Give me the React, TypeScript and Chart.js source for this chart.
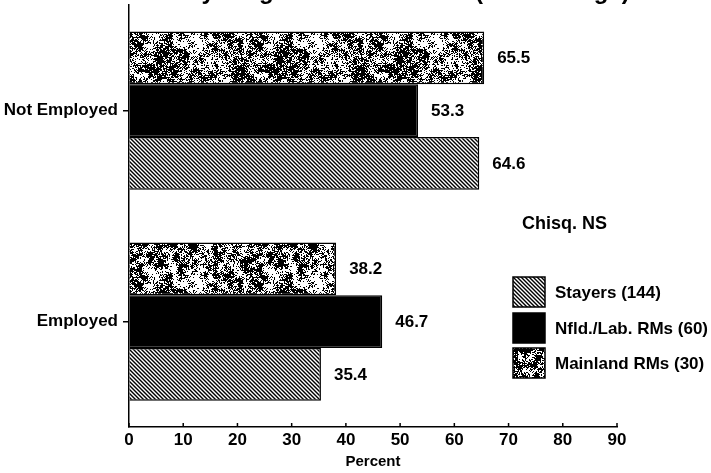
import { useEffect, useRef } from "react";
import { Chart, registerables } from "chart.js";

Chart.register(...registerables);

// ---- data ----
const categories = ["Not Employed", "Employed"];
const seriesLabels = ["Mainland RMs (30)", "Nfld./Lab. RMs (60)", "Stayers (144)"];
const mainlandValues = [65.5, 38.2];
const nfldValues = [53.3, 46.7];
const stayersValues = [64.6, 35.4];
const xTickValues = [0, 10, 20, 30, 40, 50, 60, 70, 80, 90];
const titleText = "Work Activity Stage at the Interview (Current Age)";
const noteText = "Chisq. NS";
const axisTitleText = "Percent";
const legendOrder = [2, 1, 0];

const FONT = "'Liberation Sans', Arial, Helvetica, sans-serif";

function mulberry32(a: number) {
  return function () {
    a |= 0;
    a = (a + 0x6d2b79f5) | 0;
    let t = Math.imul(a ^ (a >>> 15), 1 | a);
    t = (t + Math.imul(t ^ (t >>> 7), 61 | t)) ^ t;
    return ((t ^ (t >>> 14)) >>> 0) / 4294967296;
  };
}

function makeSpeckle(ctxMain: CanvasRenderingContext2D): CanvasPattern | string {
  const size = 120;
  const cell = 5;
  const cw = size / cell;
  const c = document.createElement("canvas");
  c.width = size;
  c.height = size;
  const ctx = c.getContext("2d");
  if (!ctx) return "#555";
  const rnd = mulberry32(20240611);
  const cells: number[] = [];
  for (let i = 0; i < cw * cw; i++) cells.push(rnd());
  const cellAt = (cx: number, cy: number) => cells[((cy + cw) % cw) * cw + ((cx + cw) % cw)];
  const img = ctx.createImageData(size, size);
  for (let y = 0; y < size; y++) {
    for (let x = 0; x < size; x++) {
      const fx = x / cell;
      const fy = y / cell;
      const x0 = Math.floor(fx);
      const y0 = Math.floor(fy);
      const tx = fx - x0;
      const ty = fy - y0;
      const a = cellAt(x0, y0);
      const b = cellAt(x0 + 1, y0);
      const c2 = cellAt(x0, y0 + 1);
      const d = cellAt(x0 + 1, y0 + 1);
      const smooth = (a * (1 - tx) + b * tx) * (1 - ty) + (c2 * (1 - tx) + d * tx) * ty;
      const v = 0.45 * rnd() + 0.55 * smooth;
      const white = v > 0.5;
      const idx = (y * size + x) * 4;
      const col = white ? 255 : 0;
      img.data[idx] = col;
      img.data[idx + 1] = col;
      img.data[idx + 2] = col;
      img.data[idx + 3] = 255;
    }
  }
  ctx.putImageData(img, 0, 0);
  return ctxMain.createPattern(c, "repeat") || "#555";
}

function makeHatch(ctxMain: CanvasRenderingContext2D): CanvasPattern | string {
  const size = 8;
  const c = document.createElement("canvas");
  c.width = size;
  c.height = size;
  const ctx = c.getContext("2d");
  if (!ctx) return "#aaa";
  ctx.fillStyle = "#fff";
  ctx.fillRect(0, 0, size, size);
  ctx.strokeStyle = "#000";
  ctx.lineWidth = 1.4;
  for (let o = -size; o <= size; o += 4) {
    ctx.beginPath();
    ctx.moveTo(o - 1, -1);
    ctx.lineTo(o + size + 1, size + 1);
    ctx.stroke();
  }
  return ctxMain.createPattern(c, "repeat") || "#aaa";
}

const titlePlugin = {
  id: "cutTitle",
  afterDraw(chart: any) {
    const ctx = chart.ctx as CanvasRenderingContext2D;
    ctx.save();
    ctx.font = `bold 24px ${FONT}`;
    ctx.fillStyle = "#000";
    ctx.textAlign = "left";
    ctx.textBaseline = "alphabetic";
    ctx.fillText(titleText, 62, -1);
    ctx.restore();
  },
};

const valueLabelPlugin = {
  id: "valueLabels",
  afterDatasetsDraw(chart: any) {
    const ctx = chart.ctx as CanvasRenderingContext2D;
    ctx.save();
    ctx.font = `bold 17px ${FONT}`;
    ctx.fillStyle = "#000";
    ctx.textAlign = "left";
    ctx.textBaseline = "middle";
    chart.data.datasets.forEach((ds: any, i: number) => {
      const meta = chart.getDatasetMeta(i);
      meta.data.forEach((el: any, j: number) => {
        const v = ds.data[j] as number;
        ctx.fillText(v.toFixed(1), el.x + 13, el.y + 1);
      });
    });
    ctx.restore();
  },
};

const innerTicksPlugin = {
  id: "innerTicks",
  afterDraw(chart: any) {
    const ctx = chart.ctx as CanvasRenderingContext2D;
    const xs = chart.scales.x;
    const bottom = chart.chartArea.bottom;
    ctx.save();
    ctx.strokeStyle = "#000";
    ctx.lineWidth = 1.5;
    xTickValues.forEach((v) => {
      const px = xs.getPixelForValue(v);
      ctx.beginPath();
      ctx.moveTo(px, bottom);
      ctx.lineTo(px, bottom - 4);
      ctx.stroke();
    });
    ctx.restore();
  },
};

const legendPlugin = {
  id: "customLegend",
  afterDraw(chart: any) {
    const ctx = chart.ctx as CanvasRenderingContext2D;
    ctx.save();
    ctx.fillStyle = "#000";
    ctx.font = `bold 18px ${FONT}`;
    ctx.textAlign = "left";
    ctx.textBaseline = "middle";
    ctx.fillText(noteText, 522, 224);

    ctx.font = `bold 17px ${FONT}`;
    const boxX = 513;
    const boxW = 32;
    const boxH = 30;
    const tops = [277, 313, 348];
    legendOrder.forEach((dsIdx, k) => {
      const ds = chart.data.datasets[dsIdx];
      const y = tops[k];
      ctx.fillStyle = ds.backgroundColor;
      ctx.fillRect(boxX, y, boxW, boxH);
      ctx.strokeStyle = "#000";
      ctx.lineWidth = 1.5;
      ctx.strokeRect(boxX, y, boxW, boxH);
      ctx.fillStyle = "#000";
      ctx.fillText(ds.label, 555, y + boxH / 2 + 1);
    });
    ctx.restore();
  },
};

export default function App() {
  const canvasRef = useRef<HTMLCanvasElement | null>(null);

  useEffect(() => {
    document.body.style.margin = "0";
    const canvas = canvasRef.current;
    if (!canvas) return;
    const ctx = canvas.getContext("2d");
    if (!ctx) return;
    const speckle = makeSpeckle(ctx);
    const hatch = makeHatch(ctx);

    const chart = new Chart(ctx, {
      type: "bar",
      data: {
        labels: categories,
        datasets: [
          {
            label: seriesLabels[0],
            data: mainlandValues,
            backgroundColor: speckle as any,
            borderColor: "#000",
            borderWidth: 1.5,
          },
          {
            label: seriesLabels[1],
            data: nfldValues,
            backgroundColor: "#000",
            borderColor: "#000",
            borderWidth: 1.5,
          },
          {
            label: seriesLabels[2],
            data: stayersValues,
            backgroundColor: hatch as any,
            borderColor: "#000",
            borderWidth: 1.5,
          },
        ],
      },
      options: {
        indexAxis: "y",
        responsive: false,
        animation: false,
        devicePixelRatio: 1,
        layout: { padding: { top: 5, right: 94, bottom: 0, left: 0 } },
        datasets: {
          bar: {
            categoryPercentage: 0.75,
            barPercentage: 1.0,
            borderSkipped: "start",
          },
        },
        plugins: {
          legend: { display: false },
          title: { display: false },
          tooltip: { enabled: false },
        },
        scales: {
          x: {
            type: "linear",
            min: 0,
            max: 90,
            afterFit: (scale: any) => {
              scale.height = 46;
              scale.paddingLeft = 0;
              scale.paddingRight = 0;
            },
            ticks: {
              stepSize: 10,
              color: "#000",
              padding: 3,
              font: { family: FONT, size: 17, weight: "bold" },
            },
            grid: { display: true, drawOnChartArea: false, drawTicks: false },
            border: { display: true, color: "#000", width: 1.5 },
            title: {
              display: true,
              text: axisTitleText,
              color: "#000",
              font: { family: FONT, size: 15, weight: "bold" },
              padding: { top: 0, bottom: 2 },
            },
          },
          y: {
            type: "category",
            afterFit: (scale: any) => {
              scale.width = 129;
              scale.paddingTop = 0;
              scale.paddingBottom = 0;
            },
            ticks: {
              color: "#000",
              padding: 5,
              font: { family: FONT, size: 17, weight: "bold" },
            },
            grid: {
              display: true,
              drawOnChartArea: false,
              drawTicks: true,
              tickLength: 6,
              offset: false,
              color: "#000",
              lineWidth: 1.5,
            },
            border: { display: true, color: "#000", width: 1.5 },
          },
        },
      },
      plugins: [valueLabelPlugin, innerTicksPlugin, legendPlugin, titlePlugin],
    } as any);

    return () => {
      chart.destroy();
    };
  }, []);

  return (
    <div style={{ width: 711, height: 473, background: "#fff" }}>
      <canvas ref={canvasRef} width={711} height={473} style={{ display: "block", width: 711, height: 473 }} />
    </div>
  );
}
